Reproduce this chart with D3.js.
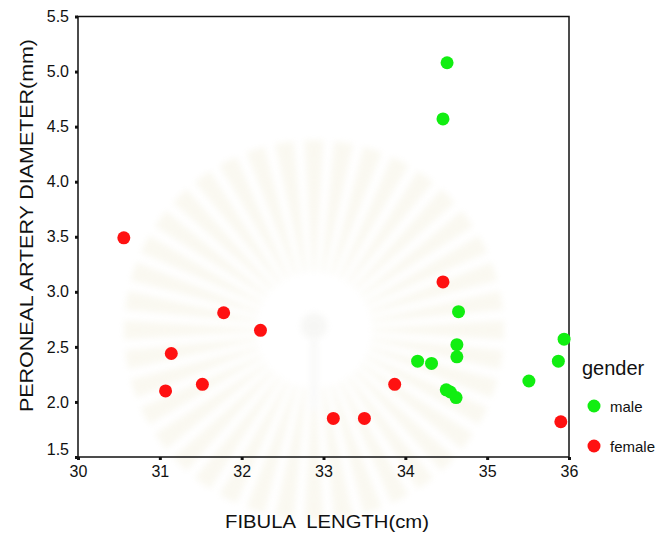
<!DOCTYPE html>
<meta charset="utf-8">
<style>
body { margin: 0; background: #fff; }
text { font-family: 'Liberation Sans', Arial, sans-serif; fill: #111; }
.tick text { font-size: 16px; }
.title { font-size: 19px; }
</style>
<body>
<script src="https://d3js.org/d3.v7.min.js"></script>
<script>
// fibula length (cm) / peroneal artery diameter (mm)
const maleLength   = [34.51, 34.46, 34.65, 34.63, 34.63, 34.15, 34.32, 34.50, 34.55, 34.62, 35.51, 35.87, 35.94];
const maleDiam     = [5.08, 4.57, 2.82, 2.52, 2.41, 2.37, 2.35, 2.11, 2.09, 2.04, 2.19, 2.37, 2.57];
const femaleLength = [30.56, 31.07, 31.14, 31.52, 31.78, 32.23, 33.12, 33.50, 33.87, 34.46, 35.90];
const femaleDiam   = [3.49, 2.10, 2.44, 2.16, 2.81, 2.65, 1.85, 1.85, 2.16, 3.09, 1.82];
const xTicks = [30, 31, 32, 33, 34, 35, 36];
const yTicks = [1.5, 2.0, 2.5, 3.0, 3.5, 4.0, 4.5, 5.0, 5.5];
const groups = ["male", "female"];
const groupColors = ["#11ee11", "#ff1111"];

const W = 661, H = 535;
const svg = d3.select("body").append("svg").attr("width", W).attr("height", H);

const x = d3.scaleLinear().domain([30, 36]).range([78, 569]);
const y = d3.scaleLinear().domain([1.5, 5.5]).range([457, 16.5]);
const color = d3.scaleOrdinal().domain(groups).range(groupColors);

// faint watermark in background
svg.append("defs").append("filter").attr("id", "blur")
  .append("feGaussianBlur").attr("stdDeviation", 3);
const wm = svg.append("g").attr("transform", "translate(314,330)")
  .attr("filter", "url(#blur)").attr("opacity", 0.4);
d3.range(40).forEach(i => {
  const a = i * 9 * Math.PI / 180, r0 = 58, r1 = 190;
  wm.append("path")
    .attr("d", `M${r0*Math.cos(a-0.025)},${r0*Math.sin(a-0.025)}L${r1*Math.cos(a-0.05)},${r1*Math.sin(a-0.05)}L${r1*Math.cos(a+0.05)},${r1*Math.sin(a+0.05)}L${r0*Math.cos(a+0.025)},${r0*Math.sin(a+0.025)}Z`)
    .attr("fill", "#f3efdc");
});
wm.append("circle").attr("cy", -4).attr("r", 13).attr("fill", "#ebebe6");
wm.append("rect").attr("x", -3).attr("y", 10).attr("width", 6).attr("height", 70).attr("fill", "#eeeeea");

// frame
svg.append("rect")
  .attr("x", x(30)).attr("y", y(5.5))
  .attr("width", x(36) - x(30)).attr("height", y(1.5) - y(5.5))
  .attr("fill", "none").attr("stroke", "#111").attr("stroke-width", 1.5);

const xAxis = svg.append("g")
  .attr("transform", `translate(0,${y(1.5)})`)
  .call(d3.axisBottom(x).tickValues(xTicks).tickFormat(d3.format("d")).tickSize(3).tickPadding(6));
const yAxis = svg.append("g")
  .attr("transform", `translate(${x(30)},0)`)
  .call(d3.axisLeft(y).tickValues(yTicks).tickFormat(d3.format(".1f")).tickSize(3).tickPadding(6));
[xAxis, yAxis].forEach(a => {
  a.select(".domain").remove();
  a.selectAll(".tick line").attr("stroke", "#111").attr("stroke-width", 3);
  a.selectAll(".tick text").attr("fill", "#111");
});
yAxis.selectAll(".tick").filter(d => d === 1.5).select("text").attr("dy", "-0.15em");

// points
const pts = [];
maleLength.forEach((v, i) => pts.push({ g: "male", x: v, y: maleDiam[i] }));
femaleLength.forEach((v, i) => pts.push({ g: "female", x: v, y: femaleDiam[i] }));
svg.append("g").selectAll("circle").data(pts).join("circle")
  .attr("cx", d => x(d.x)).attr("cy", d => y(d.y)).attr("r", 6.5)
  .attr("fill", d => color(d.g));

// titles
svg.append("text").attr("class", "title")
  .attr("x", 327).attr("y", 528).attr("text-anchor", "middle")
  .attr("xml:space", "preserve")
  .attr("textLength", 204).attr("lengthAdjust", "spacingAndGlyphs")
  .text("FIBULA  LENGTH(cm)");
svg.append("text").attr("class", "title")
  .attr("transform", `translate(33,225.5) rotate(-90)`)
  .attr("text-anchor", "middle")
  .attr("textLength", 373).attr("lengthAdjust", "spacingAndGlyphs")
  .text("PERONEAL ARTERY DIAMETER(mm)");

// legend
const lg = svg.append("g").attr("transform", "translate(582,0)");
lg.append("text").attr("x", 0).attr("y", 375).style("font-size", "20px").text("gender");
const li = lg.selectAll("g.item").data(groups).join("g")
  .attr("class", "item")
  .attr("transform", (d, i) => `translate(0,${406 + i * 40})`);
li.append("circle").attr("cx", 12).attr("cy", 0).attr("r", 6.5).attr("fill", d => color(d));
li.append("text").attr("x", 28).attr("y", 1).attr("dy", "0.35em").style("font-size", "15px").text(d => d);
</script>
</body>
